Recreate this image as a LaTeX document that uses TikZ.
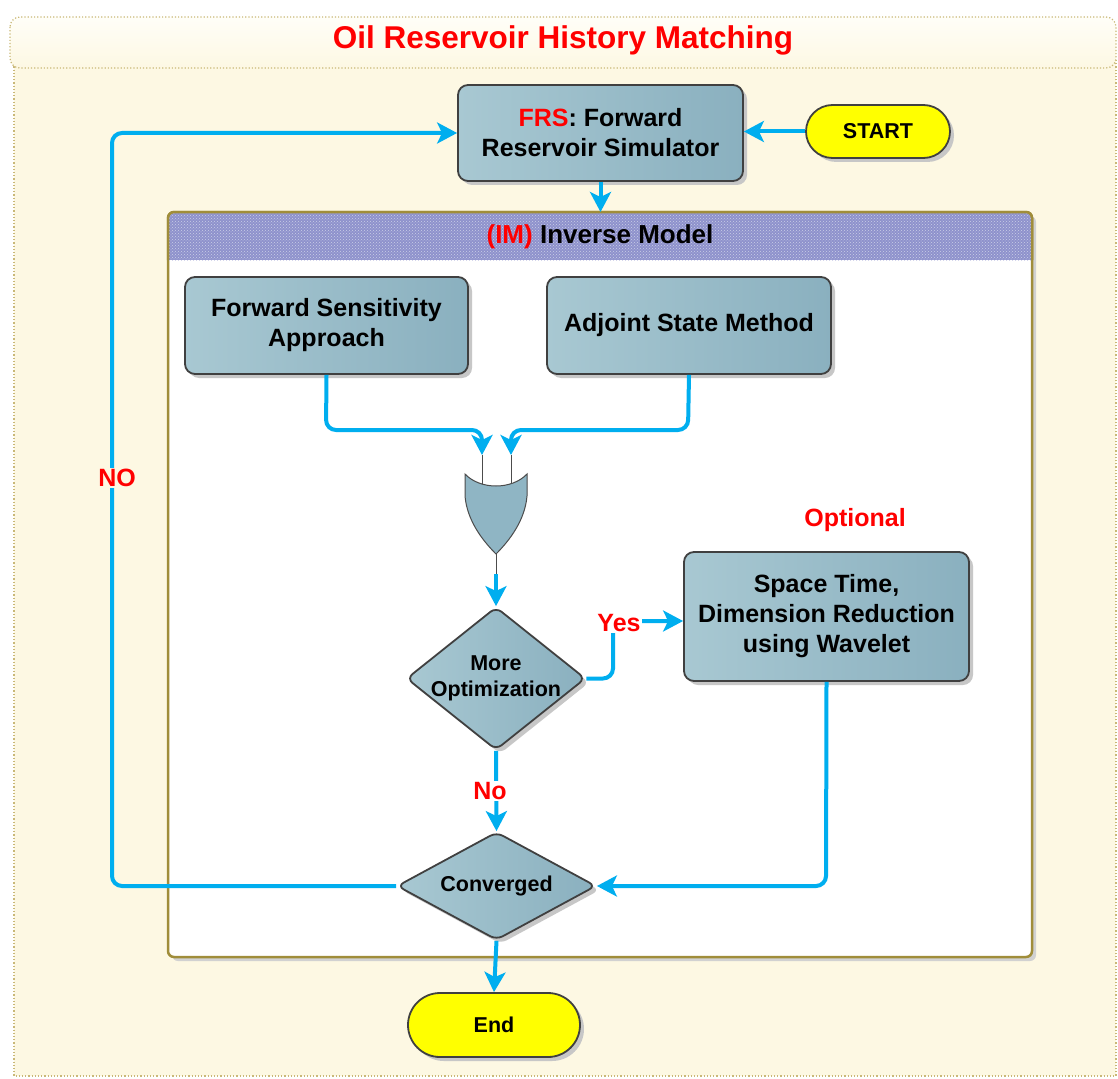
\documentclass[tikz,border=0pt]{standalone}
\usepackage{fontspec}
\setmainfont{Liberation Sans}
\usetikzlibrary{arrows.meta,shapes.geometric,shadows,patterns,calc}
\definecolor{cyanline}{HTML}{00AEEF}
\definecolor{boxA}{HTML}{A8C8D2}
\definecolor{boxB}{HTML}{8AB0BF}
\definecolor{cream}{HTML}{FDF8E3}
\definecolor{creamTop}{HTML}{FFFEF8}
\definecolor{frameC}{HTML}{C9B877}
\definecolor{olive}{HTML}{A08D3A}
\definecolor{hdr}{HTML}{8E92CC}
\definecolor{yel}{HTML}{FFFF00}
\definecolor{gatefill}{HTML}{8FB5C4}
\tikzset{
  shd/.style={drop shadow={shadow xshift=4pt,shadow yshift=-4pt,fill=black!22,opacity=1}},
  proc/.style={draw=black!75, line width=1.8pt, rounded corners=10pt, left color=boxA, right color=boxB, shd,
    align=center, font=\bfseries\fontsize{25}{30}\selectfont, inner sep=0pt},
  decis/.style={shape=diamond, draw=black!75, line width=1.8pt, rounded corners=7pt, left color=boxA, right color=boxB, shd, inner sep=0pt},
  term/.style={draw=black!75, line width=1.8pt, fill=yel, shd, font=\bfseries\fontsize{21.5}{26}\selectfont, inner sep=0pt},
  arr/.style={draw=cyanline, line width=4pt, rounded corners=10pt, -{Stealth[length=20pt,width=21pt,inset=5pt]}},
  lbl/.style={text=red, font=\bfseries\fontsize{25}{30}\selectfont, inner sep=1pt}
}
\begin{document}
\begin{tikzpicture}[x=1pt,y=-1pt]
\useasboundingbox (0,0) rectangle (1118,1078);
% outer frame
\fill[cream] (14,60) rectangle (1116,1076);
\draw[frameC, line width=1.2pt, dotted] (14,60) rectangle (1116,1076);
\shade[top color=creamTop, bottom color=cream, rounded corners=10pt] (10,17) rectangle (1116,68);
\draw[frameC, line width=1.2pt, dotted, rounded corners=10pt] (10,17) rectangle (1116,68);
\node[text=red, font=\bfseries\fontsize{31.5}{36}\selectfont] (title) at (563,40) {Oil Reservoir History Matching};
% inverse model container
\fill[black!18, rounded corners=6pt] (172,216) rectangle (1036,961);
\filldraw[fill=white, draw=olive, line width=2.5pt, rounded corners=6pt] (168,212) rectangle (1032,957);
\fill[hdr, rounded corners=6pt] (169,213) rectangle (1031,240);
\fill[hdr] (169,225) rectangle (1031,260);
\fill[pattern=crosshatch dots, pattern color=white!55!hdr] (169,213) rectangle (1031,260);
\draw[olive, line width=2.5pt, rounded corners=6pt] (168,260) -- (168,212) -- (1032,212) -- (1032,260);
\coordinate (imtop) at (598,212);
\node[font=\bfseries\fontsize{26}{30}\selectfont] (imtitle) at (600,237) {\textcolor{red}{(IM)} Inverse Model};
% nodes
\node[proc, minimum width=285, minimum height=96] (frs) at (600.5,133) {\textcolor{red}{FRS}: Forward\\Reservoir Simulator};
\node[term, minimum width=144, minimum height=53, rounded corners=26.5pt] (start) at (878,131.5) {START};
\node[proc, minimum width=283, minimum height=97] (fsa) at (326.5,325.5) {Forward Sensitivity\\Approach};
\node[proc, minimum width=284, minimum height=97] (asm) at (689,325.5) {Adjoint State Method};
\node[proc, minimum width=285, minimum height=129] (wav) at (826.5,616.5) {Space Time,\\Dimension Reduction\\using Wavelet};
\node[decis, minimum width=179, minimum height=143,
  label={[align=center, font=\bfseries\fontsize{21.5}{26}\selectfont]center:More\\Optimization}] (opt) at (496,678.5) {};
\node[decis, minimum width=199, minimum height=108,
  label={[font=\bfseries\fontsize{21.5}{26}\selectfont]center:Converged}] (conv) at (496.5,886) {};
\node[term, minimum width=172, minimum height=64, rounded corners=32pt] (end) at (494,1025) {End};
\node[lbl] (optional) at (855,520) {Optional};
% OR gate
\coordinate (gin1) at (482,455);
\coordinate (gin2) at (511,455);
\coordinate (gout) at (496,554);
\draw[black!70, line width=1pt] (gin1) -- (482,484) (gin2) -- (511,484) (gout) -- (496,576);
\filldraw[fill=gatefill, draw=black!70, line width=1pt]
  (465,474) .. controls (480,490) and (512,490) .. (527,474) -- (527,496)
  .. controls (525,520) and (510,540) .. (gout)
  .. controls (482,540) and (467,520) .. (465,496) -- cycle;
% connectors
\draw[arr] (start.west) -- (start.west -| frs.east);
\draw[arr] (frs.south) -- (frs.south |- imtop);
\draw[arr] (fsa.south) -- (326,430) -- (482,430) -- (gin1);
\draw[arr] (asm.south) -- (688,430) -- (511,430) -- (gin2);
\draw[arr] (496,574) -- (opt.north);
\draw[arr] (opt.east) -- (613,678.5) -- (613,621) -- (wav.west |- 0,621);
\node[lbl, fill=white] (yes) at (619,623) {Yes};
\draw[arr] (opt.south) -- (conv.north);
\node[lbl, fill=white] (no) at (490,791) {No};
\draw[arr] (wav.south) -- (826,886) -- (conv.east);
\draw[arr] (conv.west) -- (112,886) -- (112,133) -- (frs.west);
\node[lbl, fill=cream] (nolbl) at (117,478) {NO};
\draw[arr] (conv.south) -- (end.north);
\end{tikzpicture}
\end{document}
